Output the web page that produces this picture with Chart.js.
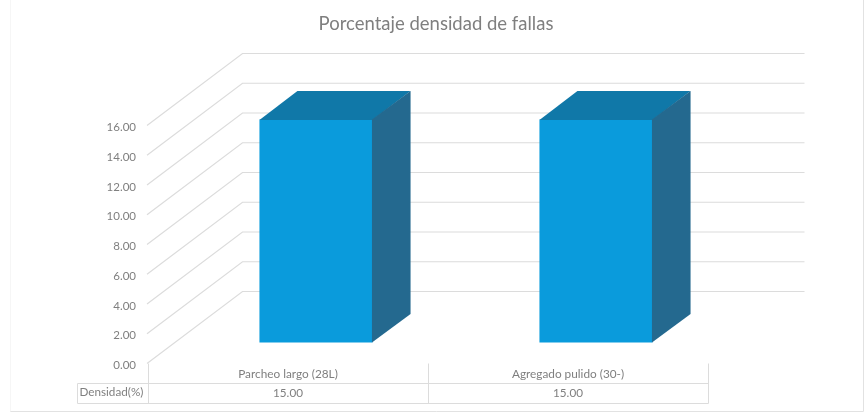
<!DOCTYPE html>
<html>
<head>
<meta charset="utf-8">
<script src="https://cdn.jsdelivr.net/npm/chart.js@4"></script>
<style>
html,body{margin:0;padding:0;background:#fff;overflow:hidden}
#wrap{position:relative;width:864px;height:413px}
</style>
</head>
<body>
<div id="wrap"><canvas id="c" width="864" height="413"></canvas></div>
<script>
const chartTitle = "Porcentaje densidad de fallas";
const categories = ["Parcheo largo (28L)", "Agregado pulido (30-)"];
const densidad = [15.00, 15.00];
const seriesName = "Densidad(%)";
const yMin = 0, yMax = 16, yStep = 2;

const FONT = "Lato, 'Open Sans', sans-serif";
const TEXT = "#7f7f7f";
const GRID = "#dcdcdc";
const wall = {dx: 94.5, dy: 72};
const barFront = {dx: 28, dy: 21};
const barDepth = {dx: 38, dy: 28.5};

const threeD = {
  id: "threeD",
  beforeDatasetsDraw(chart) {
    const {ctx, chartArea: a, scales: {y}} = chart;
    ctx.save();
    ctx.strokeStyle = GRID;
    ctx.lineWidth = 1.2;
    y.ticks.forEach(t => {
      const py = y.getPixelForValue(t.value);
      ctx.beginPath();
      ctx.moveTo(a.left - 1, py);
      ctx.lineTo(a.left + wall.dx, py - wall.dy);
      ctx.lineTo(a.right + wall.dx + 2, py - wall.dy);
      ctx.stroke();
    });
    ctx.restore();
  },
  beforeDatasetDraw(chart) {
    chart.ctx.save();
    chart.ctx.translate(barFront.dx, -barFront.dy);
  },
  afterDatasetDraw(chart, args) {
    const ctx = chart.ctx;
    ctx.restore();
    args.meta.data.forEach(el => {
      const l = el.x - el.width / 2 + barFront.dx, r = el.x + el.width / 2 + barFront.dx;
      const t = el.y - barFront.dy, b = el.base - barFront.dy;
      const d = barDepth;
      ctx.fillStyle = "#1078a8";
      ctx.beginPath();
      ctx.moveTo(l, t + 0.5); ctx.lineTo(l + d.dx, t - d.dy); ctx.lineTo(r + d.dx, t - d.dy); ctx.lineTo(r, t + 0.5);
      ctx.closePath(); ctx.fill();
      ctx.fillStyle = "#24698f";
      ctx.beginPath();
      ctx.moveTo(r - 0.6, t); ctx.lineTo(r + d.dx, t - d.dy); ctx.lineTo(r + d.dx, b - d.dy); ctx.lineTo(r - 0.6, b);
      ctx.closePath(); ctx.fill();
    });
  },
  afterDraw(chart) {
    const {ctx, chartArea: a, scales: {x}} = chart;
    const rowTop = 383.5, rowBottom = 403.5, headerLeft = 77.5;
    const edges = categories.map((_, i) => x.getPixelForValue(i) - (x.getPixelForValue(1) - x.getPixelForValue(0)) / 2);
    edges.push(a.right);
    ctx.save();
    ctx.strokeStyle = GRID;
    ctx.lineWidth = 1;
    ctx.beginPath();
    edges.forEach(e => { const p = Math.round(e) + 0.5; ctx.moveTo(p, a.bottom); ctx.lineTo(p, rowBottom); });
    ctx.moveTo(headerLeft, rowTop); ctx.lineTo(headerLeft, rowBottom);
    ctx.moveTo(headerLeft, rowTop); ctx.lineTo(a.right + 0.5, rowTop);
    ctx.moveTo(headerLeft, rowBottom); ctx.lineTo(a.right + 0.5, rowBottom);
    ctx.stroke();
    ctx.fillStyle = TEXT;
    ctx.font = "11.7px " + FONT;
    ctx.textBaseline = "middle";
    ctx.textAlign = "center";
    densidad.forEach((v, i) => ctx.fillText(v.toFixed(2), x.getPixelForValue(i), 393.5));
    ctx.textAlign = "left";
    ctx.fillText(seriesName, 79.5, 392.5);
    ctx.strokeStyle = "#e2e2e2";
    ctx.beginPath();
    ctx.moveTo(10, 411.5); ctx.lineTo(863.5, 411.5); ctx.lineTo(863.5, 0);
    ctx.stroke();
    ctx.strokeStyle = "#f6f6f6";
    ctx.beginPath();
    ctx.moveTo(10.5, 0); ctx.lineTo(10.5, 411.5);
    ctx.stroke();
    ctx.restore();
  }
};

new Chart(document.getElementById("c"), {
  type: "bar",
  data: {
    labels: categories,
    datasets: [{
      label: seriesName,
      data: densidad,
      backgroundColor: "#0a9bdc",
      borderWidth: 0,
      barPercentage: 0.404,
      categoryPercentage: 1,
      clip: false
    }]
  },
  plugins: [threeD],
  options: {
    responsive: false,
    animation: false,
    layout: {padding: {left: 8, right: 0, top: 0, bottom: 0}},
    plugins: {
      legend: {display: false},
      tooltip: {enabled: false},
      title: {
        display: true,
        text: chartTitle,
        color: TEXT,
        font: {family: FONT, size: 18.5, weight: "normal", lineHeight: 1.2},
        padding: {top: 13, bottom: 90.3}
      }
    },
    scales: {
      x: {
        grid: {display: false, drawTicks: false},
        border: {display: false},
        ticks: {color: TEXT, font: {family: FONT, size: 11.8}, padding: 3.5, maxRotation: 0, autoSkip: false},
        afterFit(s) { s.height = 49.5; }
      },
      y: {
        min: yMin, max: yMax,
        grid: {display: false, drawTicks: false},
        border: {display: false},
        ticks: {stepSize: yStep, color: TEXT, font: {family: FONT, size: 11.5}, padding: 12, labelOffset: 2,
                callback: v => Number(v).toFixed(2)},
        afterFit(s) { s.width = 140; }
      },
      yRight: {
        position: "right",
        min: yMin, max: yMax,
        grid: {display: false, drawTicks: false},
        border: {display: false},
        ticks: {display: false},
        afterFit(s) { s.width = 156; }
      }
    }
  }
});
</script>
</body>
</html>
